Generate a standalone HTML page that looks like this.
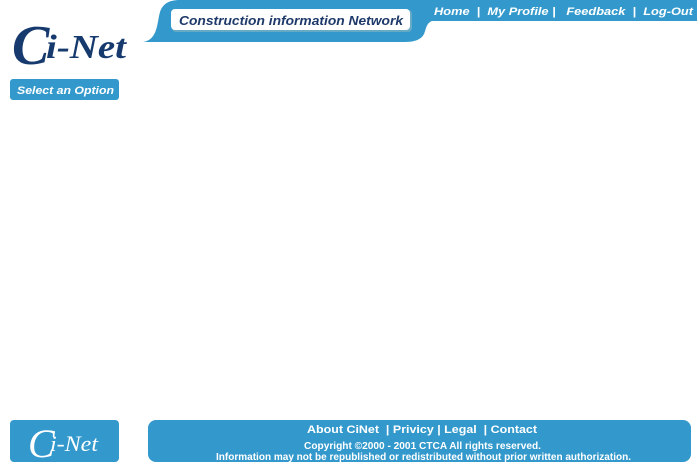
<!DOCTYPE html>
<html><head><style>
body{margin:0;width:700px;height:467px;background:#fff;position:relative;overflow:hidden;font-family:"Liberation Sans",Arial,sans-serif}
.a{position:absolute}
</style></head><body>
<svg class="a" style="left:0;top:0" width="700" height="110">
<path d="M143,42 C158,40 157,22 160,12 C163,3 170,0 180,0 L697,0 L697,21 L432,21 C426,23 426,30 424,34 C421,40 414,42 405,42 Z" fill="#3399cc"/>
<rect x="172" y="10" width="240" height="22" rx="4" fill="#9bb" opacity=".5"/>
<rect x="171" y="9" width="239" height="21" rx="4" fill="#fff"/>
<text x="179" y="25" textLength="224" lengthAdjust="spacingAndGlyphs" font-family="Liberation Sans" font-weight="bold" font-style="italic" font-size="13" fill="#1e3a6a">Construction information Network</text>
<text x="434" y="15" textLength="259" lengthAdjust="spacingAndGlyphs" font-family="Liberation Sans" font-weight="bold" font-style="italic" font-size="11" fill="#fff" xml:space="preserve">Home  |  My Profile |   Feedback  |  Log-Out</text>
<text x="12" y="64" font-family="Liberation Serif" font-style="italic" font-weight="bold" font-size="56" fill="#163a6e">C</text>
<text x="46" y="58" textLength="80" lengthAdjust="spacingAndGlyphs" font-family="Liberation Serif" font-style="italic" font-weight="bold" font-size="34" fill="#163a6e">i-Net</text>
<rect x="10" y="79" width="109" height="21" rx="3" fill="#3399cc"/>
<text x="17" y="94" textLength="97" lengthAdjust="spacingAndGlyphs" font-family="Liberation Sans" font-weight="bold" font-style="italic" font-size="11" fill="#fff">Select an Option</text>
</svg>
<svg class="a" style="left:0;top:410px" width="700" height="57">
<rect x="10" y="10" width="109" height="42" rx="4" fill="#3399cc"/>
<text x="28" y="47" font-family="Liberation Serif" font-style="italic" font-size="40" fill="#fff">C</text>
<text x="50" y="41" textLength="48" lengthAdjust="spacingAndGlyphs" font-family="Liberation Serif" font-style="italic" font-size="22" fill="#fff">i-Net</text>
<rect x="148" y="10" width="543" height="42" rx="8" fill="#3399cc"/>
<text x="307" y="23" textLength="230" lengthAdjust="spacingAndGlyphs" font-family="Liberation Sans" font-weight="bold" font-size="11" fill="#fff" xml:space="preserve">About CiNet  | Privicy | Legal  | Contact</text>
<text x="304" y="39" textLength="237" lengthAdjust="spacingAndGlyphs" font-family="Liberation Sans" font-weight="bold" font-size="10" fill="#fff">Copyright ©2000 - 2001 CTCA  All rights reserved.</text>
<text x="216" y="50" textLength="415" lengthAdjust="spacingAndGlyphs" font-family="Liberation Sans" font-weight="bold" font-size="10" fill="#fff">Information may not be republished or redistributed without prior written authorization.</text>
</svg>
</body></html>
